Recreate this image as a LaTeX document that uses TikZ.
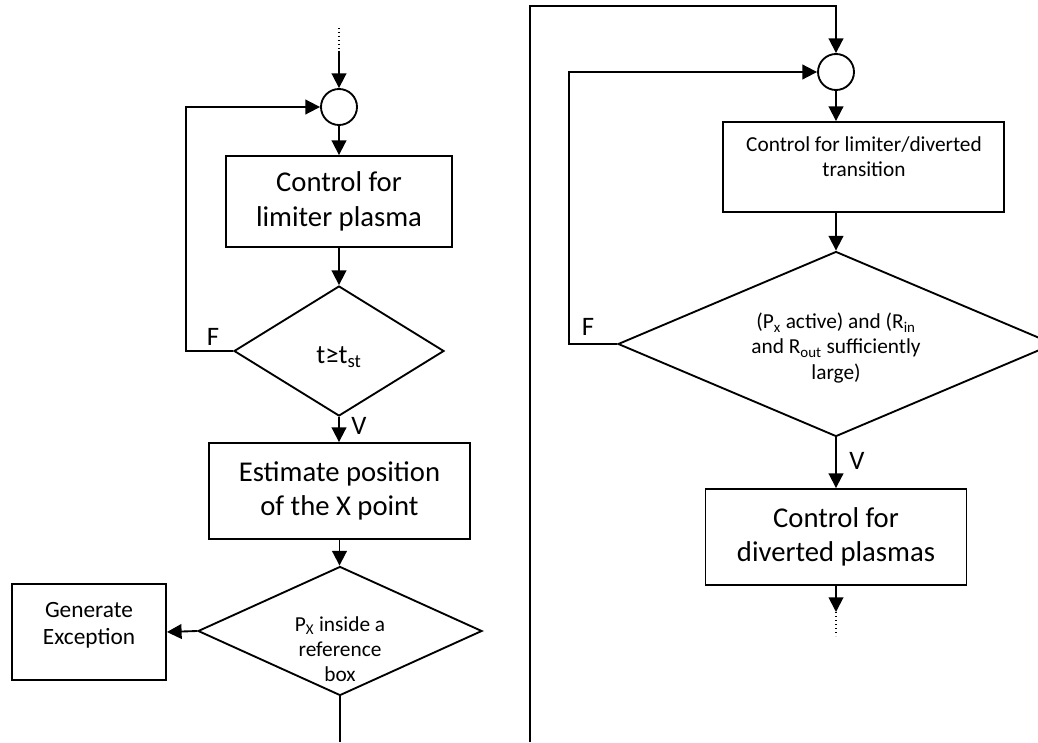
\documentclass[tikz,border=0pt]{standalone}
\usepackage{fontspec}
\setmainfont{Carlito}
\usetikzlibrary{arrows.meta,shapes.geometric}
\begin{document}
\begin{tikzpicture}[x=0.75pt,y=-0.75pt,
 line width=1.4pt,
 arr/.style={-{Triangle[length=11pt,width=11pt]}},
 box/.style={draw,rectangle,inner sep=0pt},
 dia/.style={draw,diamond,inner sep=0pt},
 junc/.style={draw,circle,inner sep=0pt,minimum size=27pt},
 big/.style={font=\fontsize{21.5}{26}\selectfont,align=center},
 small/.style={font=\fontsize{16}{19}\selectfont,align=center},
 mid/.style={font=\fontsize{17.5}{20}\selectfont,align=center},
 lbl/.style={font=\fontsize{20}{24}\selectfont},
 dots/.style={dotted,line width=1pt}]
\useasboundingbox (0,0) rectangle (1038,742);
\clip (0,0) rectangle (1038,742);
% ---- left column
\node[junc] (c1) at (339,107) {};
\node[box,big,minimum width=169.5pt,minimum height=68.25pt] (b1) at (339,201.5) {Control for\\limiter plasma};
\node[dia,minimum width=157.5pt,minimum height=97.5pt] (d1) at (339,351) {};
\node[lbl] (t1) at (339,357) {t≥t\textsubscript{st}};
\node[box,big,minimum width=195.75pt,minimum height=72pt] (b2) at (339.5,491) {Estimate position\\of the X point};
\node[dia,minimum width=213pt,minimum height=96.75pt] (d2) at (340,631) {};
\node[small] (t2) at (340,649) {P\textsubscript{X} inside a\\reference\\box};
\node[box,minimum width=115.5pt,minimum height=72pt] (exc) at (89,632) {};
\node[mid] (t3) at (89,625) {Generate\\Exception};
\coordinate (topL) at (339,28);
\coordinate (topLs) at (339,51);
\draw[dots] (topL) -- (topLs);
\draw[arr] (topLs) -- (c1.north);
\draw[arr] (c1) -- (b1);
\draw[arr] (b1) -- (d1);
\coordinate (fL) at (186,351);
\draw[arr] (d1.west) -- (fL) |- (c1.west);
\node[lbl] (F1) at (213,337) {F};
\draw[arr] (d1.south) -- (d1.south |- b2.north);
\node[lbl] (V1) at (359,426) {V};
\draw[arr] (b2.south) -- (b2.south |- d2.north);
\draw[arr] (d2.west) -- (exc.east);
\coordinate (botL) at (340,742);
\draw (d2.south) -- (botL);
% ---- right column
\node[junc] (c2) at (836,72) {};
\node[box,minimum width=210.75pt,minimum height=67.5pt] (b3) at (863.5,167) {};
\node[small] (t4) at (864,157) {Control for limiter/diverted\\transition};
\node[dia,minimum width=327pt,minimum height=138.75pt] (d3) at (836,344) {};
\node[small] (t5) at (836,348) {(P\textsubscript{x} active) and (R\textsubscript{in}\\and R\textsubscript{out} sufficiently\\large)};
\node[box,big,minimum width=195.75pt,minimum height=72pt] (b4) at (836,537) {Control for\\diverted plasmas};
\coordinate (rb) at (530,742);
\coordinate (rt) at (530,6);
\draw[arr] (rb) -- (rt) -| (c2.north);
\coordinate (fR) at (569,344);
\draw[arr] (d3.west) -- (fR) |- (c2.west);
\node[lbl] (F2) at (588,327) {F};
\draw[arr] (c2.south) -- (c2.south |- b3.north);
\draw[arr] (d3.north |- b3.south) -- (d3.north);
\draw[arr] (d3.south) -- (b4.north);
\node[lbl] (V2) at (857,461) {V};
\coordinate (botRa) at (836,612);
\coordinate (botRb) at (836,636);
\draw[arr] (b4.south) -- (botRa);
\draw[dots] (botRa) -- (botRb);
\end{tikzpicture}
\end{document}
